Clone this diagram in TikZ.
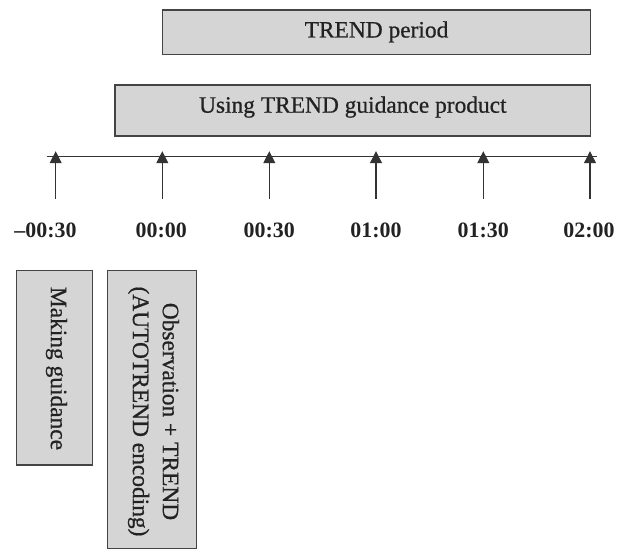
\documentclass[tikz,border=0pt]{standalone}
\usepackage{fontspec}
\setmainfont{Liberation Serif}
\newfontfamily\boxfont[RawFeature={embolden=0.7}]{Liberation Serif}
\usetikzlibrary{arrows.meta}
\definecolor{boxfill}{HTML}{D5D5D5}
\definecolor{boxline}{HTML}{444444}
\definecolor{textcol}{HTML}{222222}
\definecolor{linecol}{HTML}{333333}
\begin{document}
\begin{tikzpicture}[x=1bp,y=-1bp,
  bar/.style={draw=boxline, fill=boxfill, line width=1.3bp, inner sep=0pt, outer sep=0pt},
  bartext/.style={font=\boxfont\fontsize{23.5}{30}\selectfont, text=textcol, inner sep=0pt},
  ticklab/.style={font=\fontsize{22}{26}\selectfont\bfseries, text=textcol, anchor=base, inner sep=0pt},
  tickarrow/.style={draw=linecol, line width=1.1bp, -{Triangle[width=12bp,length=12bp]}},
  axisline/.style={draw=linecol, line width=1.1bp}]
\useasboundingbox (0,0) rectangle (618,550);

% horizontal bars
\node[bar, minimum width=428.4bp, minimum height=44.3bp] (trend) at (376.5,32.15) {};
\node[bartext, anchor=base] (trendtxt) at (376.5,37.5) {TREND period};
\node[bar, minimum width=475.7bp, minimum height=51bp] (using) at (352.85,110.5) {};
\node[bartext, anchor=base] (usingtxt) at (352.85,112.7) {Using TREND guidance product};

% timeline
\coordinate (tlstart) at (46.7,156.7);
\coordinate (tlend) at (597,156.7);
\draw[axisline] (tlstart) -- (tlend);

\foreach \i/\x in {1/55.7,2/162.3,3/269.3,4/376,5/483.3,6/590}{
  \coordinate (b\i) at (\x,199);
  \coordinate (t\i) at (\x,151.2);
  \draw[tickarrow] (b\i) -- (t\i);
}
\node[ticklab] (lab1) at (45.5,238) {–00:30};
\node[ticklab] (lab2) at (161.3,238) {00:00};
\node[ticklab] (lab3) at (269.3,238) {00:30};
\node[ticklab] (lab4) at (376,238) {01:00};
\node[ticklab] (lab5) at (483.3,238) {01:30};
\node[ticklab] (lab6) at (589,238) {02:00};

% vertical bars
\node[bar, minimum width=76bp, minimum height=194.3bp] (making) at (54.7,367.85) {};
\node[bartext, rotate=-90] (makingtxt) at (56.5,368.5) {Making guidance};
\node[bar, minimum width=89.4bp, minimum height=277.6bp] (obs) at (152,409.5) {};
\node[bartext, rotate=-90, align=center] (obstxt) at (153.5,411.5) {Observation + TREND\\(AUTOTREND encoding)};
\end{tikzpicture}
\end{document}
